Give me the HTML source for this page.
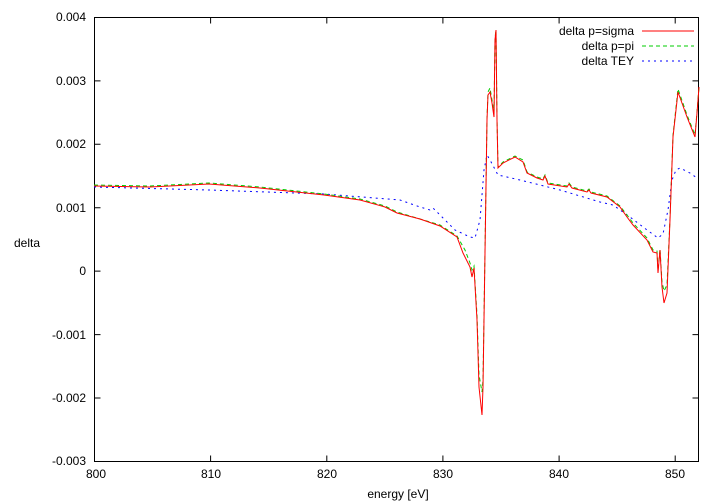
<!DOCTYPE html>
<html><head><meta charset="utf-8"><style>
body{margin:0;background:#fff;}
svg{display:block;font-family:"Liberation Sans",sans-serif;font-size:12px;}
</style></head><body>
<svg width="720" height="504" viewBox="0 0 720 504">
<g stroke="#000" stroke-width="1" fill="none">
<rect x="94.5" y="17.5" width="604" height="444"/>
<path d="M94.5 80.9h6M698.5 80.9h-6M94.5 144.3h6M698.5 144.3h-6M94.5 207.7h6M698.5 207.7h-6M94.5 271.1h6M698.5 271.1h-6M94.5 334.6h6M698.5 334.6h-6M94.5 398h6M698.5 398h-6
M210.6 461.5v-6M210.6 17.5v6M326.8 461.5v-6M326.8 17.5v6M442.9 461.5v-6M442.9 17.5v6M559.1 461.5v-6M559.1 17.5v6M675.2 461.5v-6M675.2 17.5v6"/>
</g>
<g text-anchor="end" fill="#000">
<text x="86" y="21">0.004</text><text x="86" y="85">0.003</text><text x="86" y="148">0.002</text>
<text x="86" y="212">0.001</text><text x="86" y="275">0</text><text x="86" y="339">-0.001</text>
<text x="86" y="402">-0.002</text><text x="86" y="465">-0.003</text>
</g>
<g text-anchor="middle" fill="#000">
<text x="96" y="478">800</text><text x="211" y="478">810</text><text x="327" y="478">820</text>
<text x="443" y="478">830</text><text x="559" y="478">840</text><text x="675" y="478">850</text>
<text x="398" y="498">energy [eV]</text>
<text x="27" y="247">delta</text>
</g>
<g text-anchor="end" fill="#000">
<text x="634" y="35">delta p=sigma</text><text x="634" y="50">delta p=pi</text><text x="634" y="65">delta TEY</text>
</g>
<path d="M642 31h52" stroke="#f00"/>
<path d="M642 46h52" stroke="#0c0" stroke-dasharray="4,3"/>
<path d="M642 61h52" stroke="#00f" stroke-dasharray="2,4"/>
<polyline fill="none" stroke="#00f" stroke-dasharray="2,4" points="94,187 209,190 324,194 400,200 420,207 430,210 433,208 440,215 455,230 470,237 475,238 480,220 484,170 487,155 490,160 498,175 520,180 560,190 600,202 613,205 630,217 647,230 658,238 663,234 668,210 672,180 676,170 680,168 690,173 697,178"/>
<polyline fill="none" stroke="#0c0" stroke-dasharray="4,3" points="94,185 150,186 209,183 260,187 324,194 360,199 385,206 397,212 420,219 440,225 457,236 465,250 470,263 472,270 474,266 477,315 479,375 482,392 483,380 485,250 487,118 488,92 490,88 492,100 494,112 495,38 496,30 497,118 498,167 503,162 515,156 523,160 527,172 537,177 543,179 545,175 548,183 567,186 569,183 572,187 587,191 589,189 591,192 607,196 620,206 627,215 633,223 647,238 653,250 657,251 658,270 660,249 662,282 664,291 667,285 670,218 673,135 678,89 687,115 695,135 697,112 699,87"/>
<polyline fill="none" stroke="#f00" points="94,186 150,187 209,184 260,188 324,195 360,200 385,207 397,213 420,219 440,226 457,237 463,253 470,267 472,277 474,268 477,320 479,387 482,415 483,387 485,253 487,120 488,95 490,92 492,103 494,117 495,40 496,30 497,120 498,168 503,163 515,157 523,162 527,173 537,178 543,180 545,176 548,184 567,187 569,184 572,188 587,192 589,190 591,193 607,197 620,207 627,217 633,225 647,240 653,252 657,253 658,273 660,250 662,287 664,303 667,293 670,220 673,137 678,92 687,117 695,137 697,113 699,87"/>
</svg>
</body></html>
